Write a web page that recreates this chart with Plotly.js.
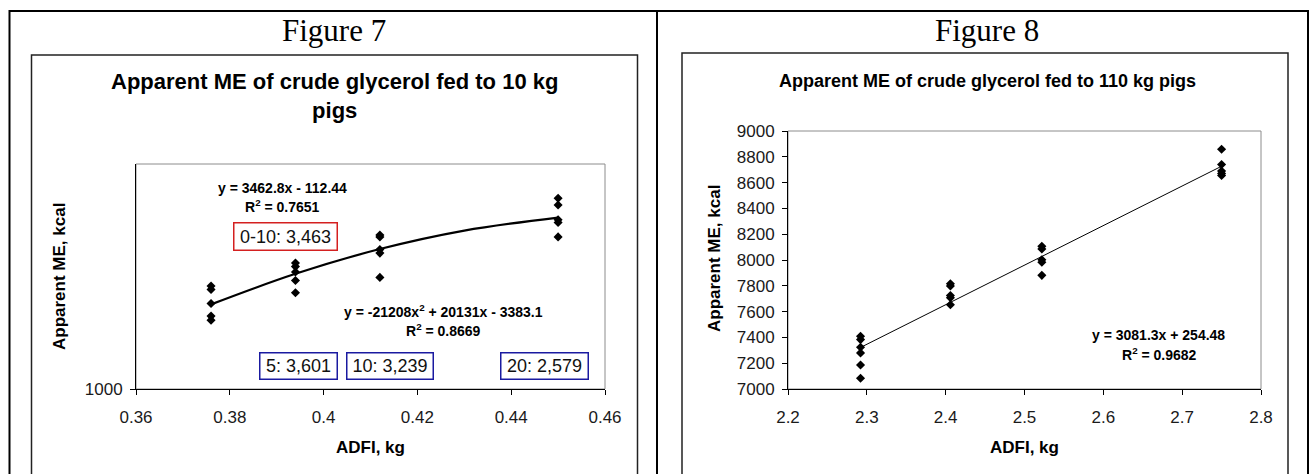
<!DOCTYPE html>
<html>
<head>
<meta charset="utf-8">
<script src="https://cdn.plot.ly/plotly-3.0.1.min.js"></script>
<style>
  html, body { margin: 0; padding: 0; background: #fff; }
  #chart { width: 1311px; height: 474px; }
</style>
</head>
<body>
<div id="chart"></div>
<script>
// ---------- Figure 7 data (10 kg pigs) ----------
const fig7X = [0.376, 0.376, 0.376, 0.376, 0.376,
               0.394, 0.394, 0.394, 0.394, 0.394,
               0.412, 0.412, 0.412, 0.412, 0.412,
               0.45, 0.45, 0.45, 0.45, 0.45];
const fig7Y = [1229, 1221, 1190, 1162, 1153,
               1280, 1272, 1260, 1241, 1214,
               1342, 1338, 1310, 1302, 1248,
               1424, 1409, 1376, 1370, 1338];
// trend curve
const fig7CurveX = [0.376, 0.394, 0.412, 0.43, 0.45];
const fig7CurveY = [1188, 1256, 1311, 1352, 1381];
const fig7XTicks = [0.36, 0.38, 0.40, 0.42, 0.44, 0.46];
const fig7YTicks = [1000];

// ---------- Figure 8 data (110 kg pigs) ----------
const fig8X = [2.292, 2.292, 2.292, 2.292, 2.292, 2.292,
               2.406, 2.406, 2.406, 2.406, 2.406,
               2.522, 2.522, 2.522, 2.522, 2.522,
               2.75, 2.75, 2.75, 2.75, 2.75];
const fig8Y = [7409, 7383, 7324, 7280, 7186, 7083,
               7816, 7798, 7725, 7707, 7653,
               8106, 8085, 8002, 7982, 7881,
               8858, 8740, 8690, 8670, 8655];
const fig8LineX = [2.292, 2.75];
const fig8LineY = [7322, 8727];
const fig8YTicks = [7000, 7200, 7400, 7600, 7800, 8000, 8200, 8400, 8600, 8800, 9000];

// ---------- text ----------
const headers = ['Figure 7', 'Figure 8'];
const titles = ['Apparent ME of crude glycerol fed to 10 kg<br>pigs',
                'Apparent ME of crude glycerol fed to 110 kg pigs'];
const yTitle = 'Apparent ME, kcal';
const xTitle = 'ADFI, kg';
const eq7Lin = ['y = 3462.8x - 112.44', 'R<sup>2</sup> = 0.7651'];
const eq7Quad = ['y = -21208x<sup>2</sup> + 20131x - 3383.1', 'R<sup>2</sup> = 0.8669'];
const eq8 = ['y = 3081.3x + 254.48', 'R<sup>2</sup> = 0.9682'];
const redBox = '0-10: 3,463';
const blueBoxes = ['5: 3,601', '10: 3,239', '20: 2,579'];

// ---------- layout helpers ----------
const W = 1311, H = 474;
const px = v => v / W;
const py = v => 1 - v / H;
const ARIAL = 'Liberation Sans, Arial, sans-serif';
const TIMES = 'Liberation Serif, Times New Roman, serif';

const traces = [
  { x: fig7X, y: fig7Y, xaxis: 'x', yaxis: 'y', type: 'scatter', mode: 'markers',
    marker: { symbol: 'diamond', size: 7, color: '#000' }, cliponaxis: false, hoverinfo: 'skip' },
  { x: fig7CurveX, y: fig7CurveY, xaxis: 'x', yaxis: 'y', type: 'scatter', mode: 'lines',
    line: { color: '#000', width: 2.2, shape: 'spline' }, hoverinfo: 'skip' },
  { x: fig8X, y: fig8Y, xaxis: 'x2', yaxis: 'y2', type: 'scatter', mode: 'markers',
    marker: { symbol: 'diamond', size: 7, color: '#000' }, cliponaxis: false, hoverinfo: 'skip' },
  { x: fig8LineX, y: fig8LineY, xaxis: 'x2', yaxis: 'y2', type: 'scatter', mode: 'lines',
    line: { color: '#000', width: 1 }, hoverinfo: 'skip' }
];

const axisCommon = {
  showgrid: false, zeroline: false, showline: true, linecolor: '#000', linewidth: 1,
  ticks: 'outside', ticklen: 5, tickcolor: '#000', tickwidth: 1,
  tickfont: { family: ARIAL, size: 17, color: '#1a1a1a' }, fixedrange: true
};

const layout = {
  width: W, height: H,
  margin: { l: 0, r: 0, t: 0, b: 0 },
  paper_bgcolor: '#fff', plot_bgcolor: '#fff',
  showlegend: false,
  xaxis: Object.assign({}, axisCommon, {
    domain: [px(136), px(605)], range: [0.36, 0.46], tickvals: fig7XTicks,
    ticktext: fig7XTicks.map(v => String(+v.toFixed(2))), anchor: 'y', ticklabelstandoff: 8
  }),
  yaxis: Object.assign({}, axisCommon, {
    domain: [py(389), py(164)], range: [1000, 1500], tickvals: fig7YTicks,
    anchor: 'x', ticklabelstandoff: 4
  }),
  xaxis2: Object.assign({}, axisCommon, {
    domain: [px(788), px(1261)], range: [2.2, 2.8], dtick: 0.1, tick0: 2.2,
    anchor: 'y2', ticklabelstandoff: 8
  }),
  yaxis2: Object.assign({}, axisCommon, {
    domain: [py(389), py(131)], range: [7000, 9000], tickvals: fig8YTicks,
    anchor: 'x2', ticklabelstandoff: 4
  }),
  shapes: [
    // outer table
    { type: 'rect', xref: 'paper', yref: 'paper', x0: px(9.5), x1: px(1308), y0: py(480), y1: py(11),
      line: { color: '#000', width: 2 } },
    { type: 'line', xref: 'paper', yref: 'paper', x0: px(657), x1: px(657), y0: py(480), y1: py(11),
      line: { color: '#000', width: 2 } },
    // chart boxes
    { type: 'rect', xref: 'paper', yref: 'paper', x0: px(31.5), x1: px(637.5), y0: py(476), y1: py(55),
      line: { color: '#222', width: 1.5 } },
    { type: 'rect', xref: 'paper', yref: 'paper', x0: px(682), x1: px(1288), y0: py(476), y1: py(53),
      line: { color: '#222', width: 1.5 } },
    // plot area borders (grey)
    { type: 'rect', xref: 'x domain', yref: 'y domain', x0: 0, x1: 1, y0: 0, y1: 1,
      line: { color: '#8c8c8c', width: 1 }, layer: 'below' },
    { type: 'rect', xref: 'x2 domain', yref: 'y2 domain', x0: 0, x1: 1, y0: 0, y1: 1,
      line: { color: '#8c8c8c', width: 1 }, layer: 'below' }
  ],
  annotations: []
};

function txt(x, y, text, font, extra) {
  layout.annotations.push(Object.assign({
    xref: 'paper', yref: 'paper', x: px(x), y: py(y), text: text, showarrow: false,
    xanchor: 'center', yanchor: 'middle', font: font
  }, extra || {}));
}

// headers
txt(334, 30, headers[0], { family: TIMES, size: 31, color: '#000' });
txt(987, 30, headers[1], { family: TIMES, size: 31, color: '#000' });
// chart titles
txt(334, 96, '<b>' + titles[0] + '</b>', { family: ARIAL, size: 22, color: '#000' });
txt(987, 81, '<b>' + titles[1] + '</b>', { family: ARIAL, size: 18, color: '#000' });
// axis titles
txt(59, 277, '<b>' + yTitle + '</b>', { family: ARIAL, size: 17, color: '#000' }, { textangle: -90 });
txt(714, 259, '<b>' + yTitle + '</b>', { family: ARIAL, size: 17, color: '#000' }, { textangle: -90 });
txt(370, 447, '<b>' + xTitle + '</b>', { family: ARIAL, size: 17, color: '#000' });
txt(1024, 447, '<b>' + xTitle + '</b>', { family: ARIAL, size: 17, color: '#000' });
// equations
const eqFont = { family: ARIAL, size: 14, color: '#000' };
txt(282, 188, '<b>' + eq7Lin[0] + '</b>', eqFont);
txt(282, 206, '<b>' + eq7Lin[1] + '</b>', eqFont);
txt(443, 311, '<b>' + eq7Quad[0] + '</b>', eqFont);
txt(443, 330, '<b>' + eq7Quad[1] + '</b>', eqFont);
txt(1158, 335, '<b>' + eq8[0] + '</b>', eqFont);
txt(1159, 354, '<b>' + eq8[1] + '</b>', eqFont);
// boxed labels
const boxFont = { family: ARIAL, size: 18, color: '#111' };
txt(285, 236, redBox, boxFont, { bordercolor: '#d42020', borderwidth: 1.5, borderpad: 0, width: 102, height: 26, bgcolor: '#fff' });
const blueX = [298.6, 389.8, 544.6];
const blueW = [76, 85, 86];
blueBoxes.forEach((t, i) => {
  txt(blueX[i], 365.5, t, boxFont, { bordercolor: '#1a1aa0', borderwidth: 1.5, borderpad: 0, width: blueW[i], height: 25, bgcolor: '#fff' });
});

Plotly.newPlot('chart', traces, layout, { staticPlot: true, displayModeBar: false });
</script>
</body>
</html>
